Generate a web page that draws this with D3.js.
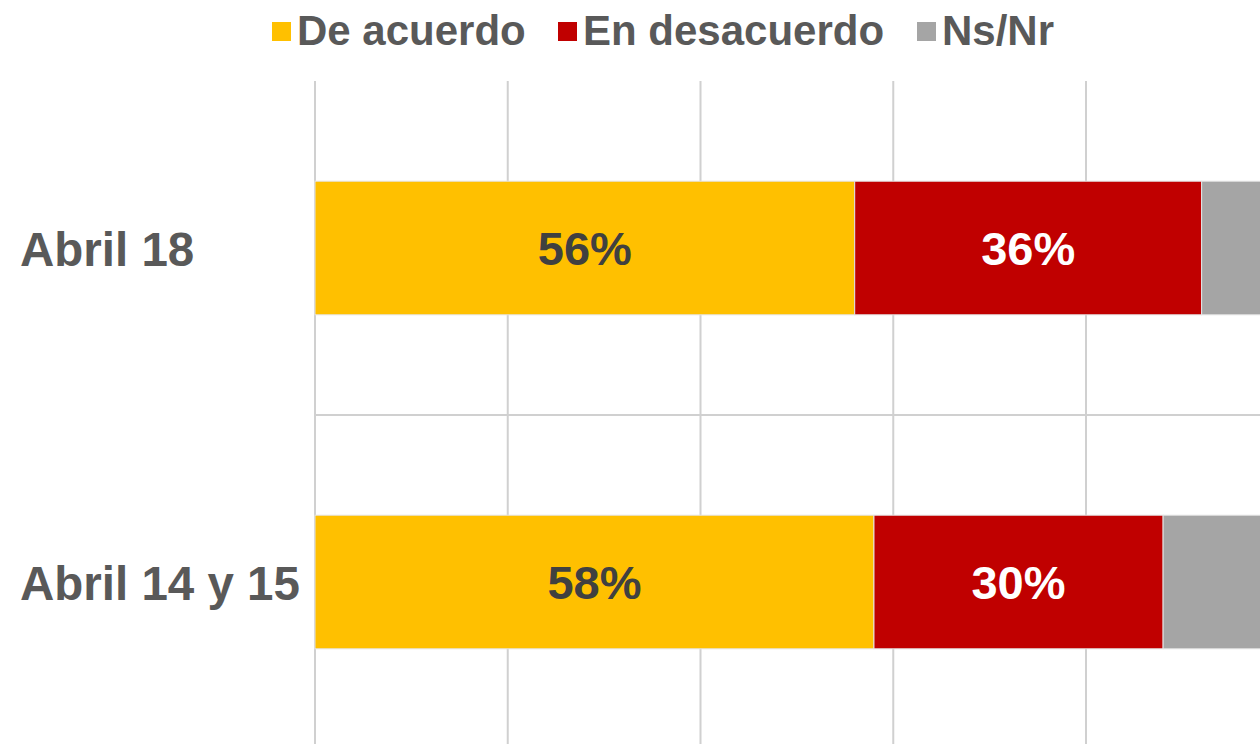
<!DOCTYPE html>
<html>
<head>
<meta charset="utf-8">
<script src="https://cdn.jsdelivr.net/npm/d3@7"></script>
<style>
  html, body { margin: 0; padding: 0; background: #fff; overflow: hidden; }
  svg { display: block; font-family: "Liberation Sans", Arial, sans-serif; font-weight: bold; }
</style>
</head>
<body>
<svg id="chart" width="1260" height="744"></svg>
<script>
// Survey results by date (percent)
const categories = ["Abril 18", "Abril 14 y 15"];
const seriesNames = ["De acuerdo", "En desacuerdo", "Ns/Nr"];
const deAcuerdo = [56, 58];
const enDesacuerdo = [36, 30];
const nsNr = [8, 12];
const xTicks = [0, 20, 40, 60, 80, 100];
const colors = ["#FFC000", "#C00000", "#A5A5A5"];
const labelColors = ["#404040", "#FFFFFF", null];

const svg = d3.select("#chart");
const plot = { left: 315, right: 1278.75, top: 81, bottom: 749 };

const rows = categories.map((c, i) => ({
  category: c,
  "De acuerdo": deAcuerdo[i],
  "En desacuerdo": enDesacuerdo[i],
  "Ns/Nr": nsNr[i]
}));

const x = d3.scaleLinear().domain([0, 100]).range([plot.left, plot.right]);
const y = d3.scaleBand().domain(categories).range([plot.top, plot.bottom])
  .paddingInner(0.6).paddingOuter(0.3);
const yBands = d3.scaleBand().domain(categories).range([plot.top, plot.bottom]);

// vertical gridlines
svg.append("g").selectAll("line").data(xTicks).join("line")
  .attr("x1", d => x(d)).attr("x2", d => x(d))
  .attr("y1", plot.top).attr("y2", plot.bottom)
  .attr("stroke", "#D0D0D0").attr("stroke-width", 2);

// category separators
svg.append("g").selectAll("line").data(categories.slice(1)).join("line")
  .attr("x1", plot.left).attr("x2", plot.right)
  .attr("y1", d => yBands(d)).attr("y2", d => yBands(d))
  .attr("stroke", "#D0D0D0").attr("stroke-width", 2);

// stacked bars
const stack = d3.stack().keys(seriesNames)(rows);
const layers = svg.append("g").selectAll("g").data(stack).join("g")
  .attr("fill", (d, i) => colors[i]);
layers.selectAll("rect").data(d => d).join("rect")
  .attr("x", d => x(d[0]))
  .attr("width", d => x(d[1]) - x(d[0]))
  .attr("y", d => y(d.data.category))
  .attr("height", y.bandwidth())
  .attr("stroke", "#E4E4E4").attr("stroke-width", 1);

// value labels
stack.forEach((layer, i) => {
  if (!labelColors[i]) return;
  svg.append("g").selectAll("text").data(layer).join("text")
    .attr("x", d => (x(d[0]) + x(d[1])) / 2)
    .attr("y", d => y(d.data.category) + y.bandwidth() / 2 + 17)
    .attr("text-anchor", "middle")
    .attr("font-size", 47)
    .attr("fill", labelColors[i])
    .text(d => (d[1] - d[0]) + "%");
});

// category labels
svg.append("g").selectAll("text").data(categories).join("text")
  .attr("x", 20)
  .attr("y", d => y(d) + y.bandwidth() / 2 + 18)
  .attr("font-size", 47.5)
  .attr("fill", "#595959")
  .text(d => d);

// legend
const legendX = [272, 558, 917];
const legend = svg.append("g");
seriesNames.forEach((name, i) => {
  legend.append("rect").attr("x", legendX[i]).attr("y", 22).attr("width", 19).attr("height", 19)
    .attr("fill", colors[i]);
  legend.append("text").attr("x", legendX[i] + 25).attr("y", 45)
    .attr("font-size", 42).attr("fill", "#595959").text(name);
});
</script>
</body>
</html>
